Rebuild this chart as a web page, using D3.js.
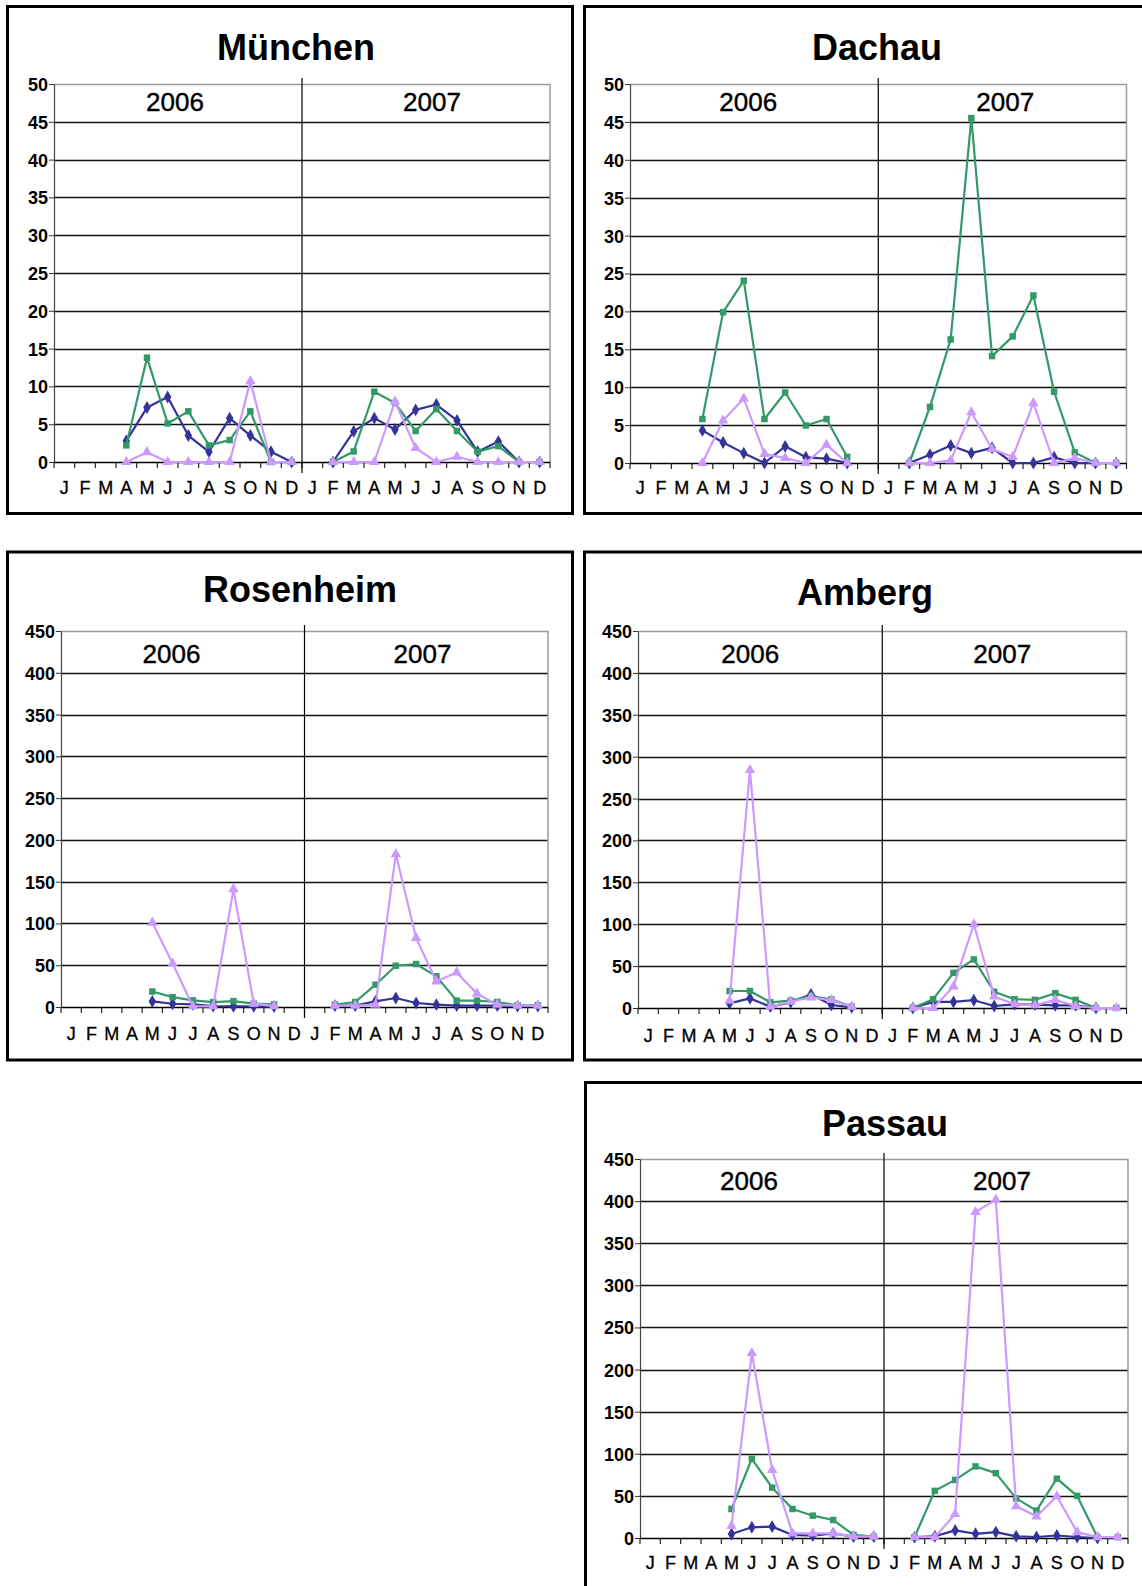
<!DOCTYPE html>
<meta charset="utf-8">
<script src="https://d3js.org/d3.v7.min.js"></script>
<style>
  body { margin: 0; background: #fff; }
  text { font-family: "Liberation Sans", Arial, sans-serif; }
</style>
<div id="chart"></div>
<script>
  // month letters, one year each
  var months = ["J", "F", "M", "A", "M", "J", "J", "A", "S", "O", "N", "D"];
  var years = ["2006", "2007"];
  var N = null;

  // 24 values per series: Jan 2006 .. Dec 2007
  var muenchenBlue  = [N,N,N,2.8,7.2,8.6,3.5,1.35,5.8,3.5,1.35,0, N,0,4.05,5.8,4.3,6.9,7.6,5.5,1.35,2.7,0,0];
  var muenchenGreen = [N,N,N,2.2,13.8,5.1,6.7,2.2,2.9,6.7,0,0, N,0,1.4,9.3,7.8,4.1,7.0,4.1,1.35,2.1,0,0];
  var muenchenLilac = [N,N,N,0,1.3,0,0,0,0,10.7,0,0, N,0,0,0,8.0,1.85,0,0.7,0,0,0,0];

  var dachauBlue  = [N,N,N,4.3,2.7,1.3,0,2.2,0.75,0.57,0,N, N,0,1.1,2.3,1.3,2.0,0,0,0.75,0,0,0];
  var dachauGreen = [N,N,N,5.8,19.9,24.05,5.8,9.3,4.95,5.8,0.8,N, N,0,7.4,16.3,45.5,14.1,16.7,22.1,9.4,1.4,0,0];
  var dachauLilac = [N,N,N,0,5.6,8.5,1.2,0.65,0,2.4,0,N, N,0,0,0.35,6.7,1.85,0.8,7.9,0,0.65,0,0];

  var rosenheimBlue  = [N,N,N,N,6.7,3.9,3.1,1.2,0.8,0.8,0.5,N, N,1.6,1.6,6.8,10.8,4.8,2.8,1.6,1.6,1.6,1,1];
  var rosenheimGreen = [N,N,N,N,18.5,11.8,7.9,5.9,7,4,3.1,N, N,2.8,6,26.7,49.4,51.4,36.7,7.6,7.6,6,2,2];
  var rosenheimLilac = [N,N,N,N,101,52,0.8,0.8,141,4,1,N, N,1.6,1.6,2.8,183,82.5,30.7,41.4,16,2.8,1.6,1.6];

  var ambergBlue  = [N,N,N,N,5.6,11.5,1.6,6.8,16.3,3.6,0.8,N, N,0,7.3,7.3,9.3,2.4,4.4,4,3.2,3.2,0,N];
  var ambergGreen = [N,N,N,N,20.3,20.3,6.8,8.8,14.3,10.3,1.6,N, N,0,10.5,42,58,19.4,10.5,9.7,17.7,9.7,0,0];
  var ambergLilac = [N,N,N,N,8.8,284,1.6,7.5,12.7,9.5,1.6,N, N,0,0,25.8,100,13.7,4.4,3.2,9.7,2.4,0,0];

  var passauBlue  = [N,N,N,N,4.7,12.7,13.5,3.6,2.8,5.5,1.6,1.6, N,1,2,9,5,7,2,1.2,3,1.2,0,N];
  var passauGreen = [N,N,N,N,34.4,94,59.8,34.4,26.5,21.4,3.6,1.6, N,1,56,69,85,77,47,32.5,70.4,50,1,1];
  var passauLilac = [N,N,N,N,14.2,219.6,80.7,5.5,5.5,5.5,1.6,1.6, N,1,1,28.5,387,401.7,37.6,25.7,49.5,7,1,1];

  var smallTicks = [0, 5, 10, 15, 20, 25, 30, 35, 40, 45, 50];
  var bigTicks = [0, 50, 100, 150, 200, 250, 300, 350, 400, 450];

  var colBlue = "#333399", colGreen = "#339966", colLilac = "#cc99ff";

  var panels = [
    { title: "München", blue: muenchenBlue, green: muenchenGreen, lilac: muenchenLilac, ticks: smallTicks,
      box: [7.5, 6.5, 565, 507], x0: 54, x1: 550, top: 84, zero: 462,
      titleX: 296, titleY: 60, yearY: 111, monthY: 494, yearDx: [-127, 130] },
    { title: "Dachau", blue: dachauBlue, green: dachauGreen, lilac: dachauLilac, ticks: smallTicks,
      box: [584.5, 6.5, 600, 507], x0: 630, x1: 1126.5, top: 84, zero: 463,
      titleX: 877, titleY: 60, yearY: 111, monthY: 494, yearDx: [-130, 127] },
    { title: "Rosenheim", blue: rosenheimBlue, green: rosenheimGreen, lilac: rosenheimLilac, ticks: bigTicks,
      box: [7.5, 552, 565, 508], x0: 61, x1: 548, top: 631, zero: 1007,
      titleX: 300, titleY: 602, yearY: 663, monthY: 1040, yearDx: [-133, 118] },
    { title: "Amberg", blue: ambergBlue, green: ambergGreen, lilac: ambergLilac, ticks: bigTicks,
      box: [584.5, 552, 600, 508], x0: 638, x1: 1126.5, top: 631, zero: 1008,
      titleX: 865, titleY: 605, yearY: 663, monthY: 1042, yearDx: [-132, 120] },
    { title: "Passau", blue: passauBlue, green: passauGreen, lilac: passauLilac, ticks: bigTicks,
      box: [585.5, 1082.5, 600, 600], x0: 640, x1: 1128, top: 1159, zero: 1538,
      titleX: 885, titleY: 1136, yearY: 1190, monthY: 1569, yearDx: [-135, 118] }
  ];

  var svg = d3.select("#chart").append("svg")
    .attr("width", 1142)
    .attr("height", 1586)
    .style("background", "#fff");

  panels.forEach(function (p) {
    var g = svg.append("g");
    var ymax = p.ticks[p.ticks.length - 1];

    var x = d3.scaleBand().domain(d3.range(24)).range([p.x0, p.x1]);
    var y = d3.scaleLinear().domain([0, ymax]).range([p.zero, p.top]);
    var cx = function (i) { return x(i) + x.bandwidth() / 2; };

    // frame
    g.append("rect")
      .attr("x", p.box[0]).attr("y", p.box[1])
      .attr("width", p.box[2]).attr("height", p.box[3])
      .attr("fill", "none").attr("stroke", "#000").attr("stroke-width", 3);

    // title
    g.append("text")
      .attr("x", p.titleX).attr("y", p.titleY)
      .attr("text-anchor", "middle")
      .attr("font-size", "36px").attr("font-weight", "bold")
      .text(p.title);

    // gridlines
    g.selectAll(".grid")
      .data(p.ticks.filter(function (t) { return t > 0 && t < ymax; }))
      .enter().append("line")
      .attr("x1", p.x0).attr("x2", p.x1)
      .attr("y1", function (d) { return Math.round(y(d)) + 0.5; })
      .attr("y2", function (d) { return Math.round(y(d)) + 0.5; })
      .attr("stroke", "#111").attr("stroke-width", 1.3);

    // plot area border top / right
    g.append("path")
      .attr("d", "M" + p.x0 + "," + (Math.round(y(ymax)) + 0.5) + "H" + p.x1 + "V" + p.zero)
      .attr("fill", "none").attr("stroke", "#9a9a9a").attr("stroke-width", 1.5);

    // y axis
    var yAxis = g.append("g")
      .attr("transform", "translate(" + p.x0 + ",0)")
      .call(d3.axisLeft(y).tickValues(p.ticks).tickSize(5).tickSizeOuter(0).tickFormat(d3.format("d")));
    yAxis.select(".domain").attr("stroke", "#444").attr("stroke-width", 1.2);
    yAxis.selectAll(".tick line").attr("stroke", "#333");
    yAxis.selectAll(".tick text")
      .attr("x", -6)
      .attr("dy", "0.36em")
      .attr("font-size", "18px").attr("font-weight", "bold")
      .attr("fill", "#000");

    // x axis line and ticks
    g.append("line")
      .attr("x1", p.x0).attr("x2", p.x1)
      .attr("y1", p.zero + 0.5).attr("y2", p.zero + 0.5)
      .attr("stroke", "#000").attr("stroke-width", 1.5);
    g.selectAll(".xtick")
      .data(d3.range(25))
      .enter().append("line")
      .attr("x1", function (i) { return (i < 24 ? x(i) : p.x1); })
      .attr("x2", function (i) { return (i < 24 ? x(i) : p.x1); })
      .attr("y1", p.zero).attr("y2", p.zero + 6)
      .attr("stroke", "#222").attr("stroke-width", 1.2);

    // year divider
    g.append("line")
      .attr("x1", x(12)).attr("x2", x(12))
      .attr("y1", p.top - 6).attr("y2", p.zero + 11)
      .attr("stroke", "#000").attr("stroke-width", 1.2);

    // year labels
    g.selectAll(".year")
      .data(years)
      .enter().append("text")
      .attr("x", function (d, i) { return x(12) + p.yearDx[i]; })
      .attr("y", p.yearY)
      .attr("text-anchor", "middle")
      .attr("font-size", "26px")
      .attr("stroke", "#000").attr("stroke-width", 0.4)
      .text(function (d) { return d; });

    // month labels
    g.selectAll(".month")
      .data(d3.range(24))
      .enter().append("text")
      .attr("x", cx)
      .attr("y", p.monthY)
      .attr("text-anchor", "middle")
      .attr("font-size", "18px")
      .attr("stroke", "#000").attr("stroke-width", 0.3)
      .text(function (i) { return months[i % 12]; });

    // series
    var series = [
      { values: p.blue, color: colBlue, symbol: d3.symbolDiamond, size: 48 },
      { values: p.green, color: colGreen, symbol: d3.symbolSquare, size: 42 },
      { values: p.lilac, color: colLilac, symbol: d3.symbolTriangle, size: 48 }
    ];

    var line = d3.line()
      .defined(function (d) { return d != null; })
      .x(function (d, i) { return cx(i); })
      .y(function (d) { return y(d); });

    series.forEach(function (s) {
      g.append("path")
        .attr("d", line(s.values))
        .attr("fill", "none")
        .attr("stroke", s.color)
        .attr("stroke-width", 2.2)
        .attr("stroke-linejoin", "round");

      var pts = s.values.map(function (v, i) { return { v: v, i: i }; })
        .filter(function (d) { return d.v != null; });
      g.selectAll(null)
        .data(pts)
        .enter().append("path")
        .attr("d", d3.symbol().type(s.symbol).size(s.size))
        .attr("transform", function (d) { return "translate(" + cx(d.i) + "," + y(d.v) + ")"; })
        .attr("fill", s.color);
    });
  });
</script>
